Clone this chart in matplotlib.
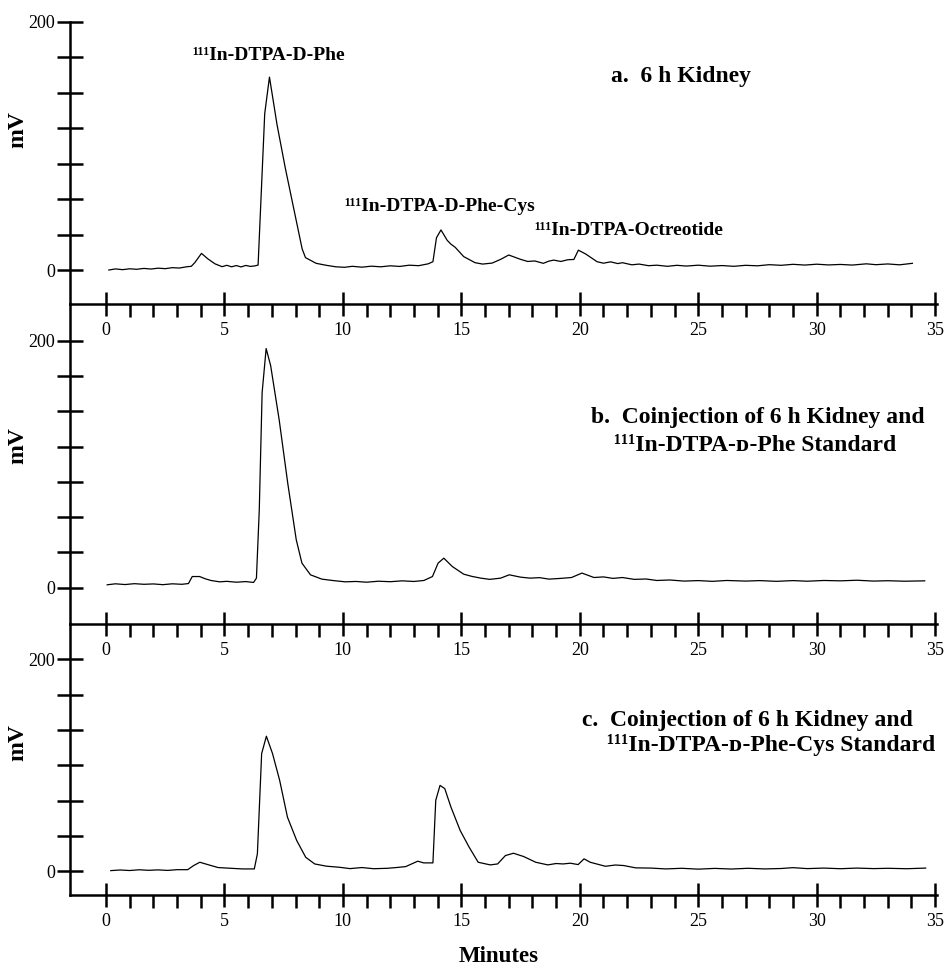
import numpy as np
import matplotlib
matplotlib.use('Agg')
import matplotlib.pyplot as plt
from matplotlib.ticker import FixedLocator, FixedFormatter

plt.rcParams['font.family'] = ['Liberation Serif', 'DejaVu Serif']

# ---------------- data ----------------
# panel a: 6 h kidney
t_a = [0.12, 0.4, 0.7, 1.0, 1.3, 1.6, 1.9, 2.2, 2.5, 2.8, 3.1, 3.4, 3.6, 3.75,
       4.03, 4.3, 4.6, 4.9, 5.1, 5.3, 5.5, 5.7, 5.9, 6.1, 6.3, 6.42, 6.7, 6.9,
       7.22, 7.57, 7.93, 8.28, 8.42, 8.87, 9.3, 9.7, 10.07, 10.4, 10.8, 11.2,
       11.6, 12.0, 12.4, 12.8, 13.2, 13.6, 13.8, 13.95, 14.14, 14.4, 14.55,
       14.74, 15.1, 15.58, 15.9, 16.3, 16.66, 17.0, 17.5, 17.8, 18.1, 18.46,
       18.7, 18.9, 19.2, 19.5, 19.75, 19.94, 20.25, 20.73, 21.0, 21.3, 21.6,
       21.8, 22.2, 22.5, 22.9, 23.25, 23.7, 24.1, 24.5, 25.0, 25.5, 26.0, 26.5,
       27.0, 27.5, 28.0, 28.5, 29.0, 29.5, 30.0, 30.5, 31.0, 31.5, 32.1, 32.5,
       33.0, 33.5, 34.04]
v_a = [0.0, 0.9, 0.3, 1.0, 0.6, 1.3, 0.8, 1.5, 1.1, 1.9, 1.6, 2.6, 3.0, 6.0,
       13.4, 9.0, 5.0, 2.7, 3.8, 2.6, 3.6, 2.5, 3.7, 2.9, 3.4, 4.0, 126.0, 155.4,
       117.0, 82.0, 49.0, 17.0, 10.0, 5.4, 3.8, 2.6, 2.2, 3.0, 2.3, 3.1,
       2.6, 3.4, 2.9, 3.9, 3.5, 5.0, 6.7, 26.0, 32.3, 24.0, 21.0,
       18.3, 10.8, 5.9, 4.8, 5.6, 8.6, 12.1, 8.6, 6.9, 7.3, 5.4,
       7.2, 8.0, 6.9, 8.3, 8.5, 16.0, 12.9, 6.7, 5.5, 6.6, 5.2,
       5.9, 4.2, 4.8, 3.5, 3.9, 3.0, 3.8, 3.2, 3.9, 3.1, 3.6, 3.0,
       3.8, 3.4, 4.3, 3.8, 4.6, 4.0, 4.7, 4.1, 4.5, 4.0, 5.0, 4.3,
       4.9, 4.2, 5.4]

# panel b: coinjection with 111In-DTPA-D-Phe standard
t_b = [0.05, 0.4, 0.8, 1.2, 1.6, 2.0, 2.4, 2.8, 3.2, 3.48, 3.64, 3.95, 4.2,
       4.43, 4.8, 5.1, 5.5, 5.9, 6.23, 6.35, 6.47, 6.59, 6.76, 6.95, 7.31, 7.67,
       8.03, 8.27, 8.63, 9.11, 9.6, 10.1, 10.55, 11.0, 11.5, 12.0, 12.5, 13.0,
       13.42, 13.78, 14.02, 14.26, 14.62, 15.1, 15.45, 15.82, 16.2, 16.66, 17.02,
       17.5, 17.9, 18.3, 18.7, 19.2, 19.65, 20.09, 20.6, 21.0, 21.4, 21.8, 22.3,
       22.8, 23.25, 23.8, 24.4, 25.0, 25.6, 26.2, 27.0, 27.6, 28.3, 29.0, 29.6,
       30.3, 31.0, 31.7, 32.4, 33.0, 33.7, 34.56]
v_b = [2.2, 3.0, 2.4, 3.1, 2.6, 2.9, 2.3, 3.0, 2.6, 3.2, 8.9, 8.9, 7.0,
       5.7, 4.6, 5.0, 4.3, 4.8, 4.1, 7.6, 63.0, 158.0, 193.8, 180.0, 136.0, 84.8,
       38.8, 19.8, 10.3, 6.8, 5.6, 4.6, 4.9, 4.3, 5.1, 4.7, 5.4, 4.9,
       5.7, 8.9, 19.8, 23.8, 17.0, 10.8, 9.0, 7.6, 6.6, 7.6, 10.3,
       8.4, 7.6, 8.0, 6.8, 7.4, 8.1, 11.7, 8.1, 8.6, 7.4, 8.1, 6.6,
       6.9, 5.7, 6.1, 5.2, 5.6, 5.0, 5.7, 5.2, 5.6, 5.0, 5.6, 5.1,
       5.7, 5.4, 5.9, 5.2, 5.5, 5.1, 5.4]

# panel c: coinjection with 111In-DTPA-D-Phe-Cys standard
t_c = [0.2, 0.6, 1.0, 1.4, 1.8, 2.2, 2.6, 3.0, 3.45, 3.7, 3.96, 4.34, 4.73,
       5.2, 5.75, 6.26, 6.39, 6.57, 6.77, 7.03, 7.33, 7.66, 8.05, 8.43, 8.81,
       9.3, 9.84, 10.3, 10.8, 11.3, 11.88, 12.3, 12.65, 13.16, 13.41, 13.8,
       13.92, 14.1, 14.3, 14.56, 14.95, 15.33, 15.71, 16.22, 16.53, 16.86, 17.2,
       17.63, 18.14, 18.65, 19.0, 19.29, 19.6, 19.93, 20.18, 20.44, 21.08,
       21.5, 21.85, 22.36, 23.0, 23.63, 24.3, 25.0, 25.7, 26.4, 27.1, 27.8,
       28.5, 29.0, 29.6, 30.3, 31.0, 31.7, 32.4, 33.0, 33.8, 34.6]
v_c = [0.6, 1.2, 0.7, 1.4, 0.9, 1.3, 0.8, 1.5, 1.5, 5.4, 8.5, 6.0, 3.5,
       2.9, 2.2, 2.2, 16.4, 111.0, 127.4, 111.0, 85.8, 51.0, 29.0, 13.2, 6.9,
       4.8, 3.8, 2.5, 3.5, 2.4, 2.8, 3.6, 4.4, 9.5, 7.9, 7.9,
       67.0, 81.0, 78.0, 60.6, 38.5, 22.7, 8.5, 6.0, 6.9, 14.8, 17.0,
       13.9, 8.5, 6.0, 7.3, 6.9, 7.6, 6.3, 11.7, 8.5, 4.7,
       5.9, 5.4, 3.2, 3.0, 2.2, 2.8, 2.0, 2.7, 2.1, 2.8, 2.2,
       2.6, 3.4, 2.5, 3.0, 2.4, 3.0, 2.5, 2.8, 2.4, 3.0]

x_major = [0, 5, 10, 15, 20, 25, 30, 35]
x_labels = ['0', '5', '10', '15', '20', '25', '30', '35']

# ---------------- layout ----------------
W, H = 950, 967
fig = plt.figure(figsize=(W / 100, H / 100), dpi=100)

LEFT, RIGHT = 70, 937.5


def rect(top, bot):
    return [LEFT / W, 1 - bot / H, (RIGHT - LEFT) / W, (bot - top) / H]


panels = [
    dict(top=21.7, bot=304.3, ylim=(-27.6, 200.0), nt=8, t=t_a, v=v_a),
    dict(top=304.3, bot=624.0, ylim=(-29.6, 229.7), nt=8, t=t_b, v=v_b),
    dict(top=624.0, bot=895.0, ylim=(-22.4, 233.3), nt=7, t=t_c, v=v_c),
]

axes = []
for p in panels:
    ax = fig.add_axes(rect(p['top'], p['bot']))
    ax.patch.set_alpha(0)
    ax.plot(p['t'], p['v'], color='black', lw=0.9)
    ax.set_xlim(-1.52, 35.1)
    ax.set_ylim(*p['ylim'])
    for s in ('top', 'right'):
        ax.spines[s].set_visible(False)
    for s in ('left', 'bottom'):
        ax.spines[s].set_linewidth(1.8)
    yt = list(np.linspace(0, 200, p['nt']))
    ax.yaxis.set_major_locator(FixedLocator(yt))
    ax.yaxis.set_major_formatter(FixedFormatter(['0'] + [''] * (p['nt'] - 2) + ['200']))
    ax.tick_params(axis='y', which='major', direction='inout', length=19,
                   width=1.8, labelsize=13, pad=1)
    ax.xaxis.set_major_locator(FixedLocator(x_major))
    ax.xaxis.set_major_formatter(FixedFormatter(x_labels))
    ax.xaxis.set_minor_locator(FixedLocator([i for i in range(1, 35) if i % 5]))
    ax.tick_params(axis='x', which='major', direction='inout', length=17,
                   width=1.8, labelsize=13, pad=4.5)
    ax.tick_params(axis='x', which='minor', direction='out', length=9.4,
                   width=1.8)
    axes.append(ax)

ax_a, ax_b, ax_c = axes

bold = dict(fontweight='bold', va='center', ha='left', clip_on=False)

# panel a annotations
ax_a.text(3.63, 173, '¹¹¹In-DTPA-D-Phe', fontsize=14, **bold)
ax_a.text(10.05, 51.5, '¹¹¹In-DTPA-D-Phe-Cys', fontsize=14, **bold)
ax_a.text(18.07, 32, '¹¹¹In-DTPA-Octreotide', fontsize=14, **bold)
ax_a.text(21.3, 156, 'a.  6 h Kidney', fontsize=17, **bold)

# panel b title
ax_b.text(20.48, 137.5, 'b.  Coinjection of 6 h Kidney and', fontsize=17, **bold)
ax_b.text(21.43, 114.8, '¹¹¹In-DTPA-ᴅ-Phe Standard', fontsize=17, **bold)

# panel c title
ax_c.text(20.1, 142.7, 'c.  Coinjection of 6 h Kidney and', fontsize=17, **bold)
ax_c.text(21.13, 119.2, '¹¹¹In-DTPA-ᴅ-Phe-Cys Standard', fontsize=17, **bold)

# y labels
for yc in (130, 446, 743):
    fig.text(18 / W, 1 - yc / H, 'mV', rotation=90, fontsize=17,
             fontweight='bold', ha='center', va='center')

fig.text(499 / W, 1 - 956 / H, 'Minutes', fontsize=16.5, fontweight='bold',
         ha='center', va='center')

fig.savefig('out.png', dpi=100)
